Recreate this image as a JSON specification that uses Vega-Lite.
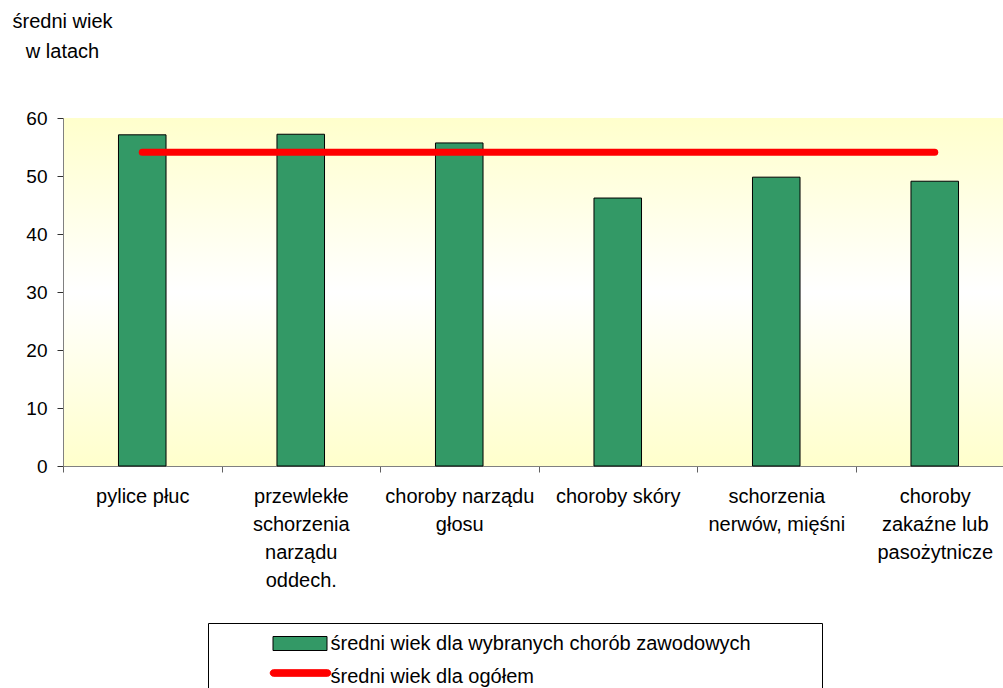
{
  "$schema": "https://vega.github.io/schema/vega-lite/v6.json",
  "autosize": {"type": "none"},
  "padding": {"left": 63, "top": 118, "right": 0, "bottom": 222},
  "width": 940,
  "height": 348,
  "background": "#FFFFFF",
  "view": {
    "stroke": null,
    "fill": {
      "gradient": "linear", "x1": 0, "y1": 0, "x2": 0, "y2": 1,
      "stops": [
        {"offset": 0, "color": "#FFFFCC"},
        {"offset": 0.5, "color": "#FFFFFF"},
        {"offset": 1, "color": "#FFFFCC"}
      ]
    }
  },
  "config": {
    "font": "Liberation Sans",
    "axis": {"grid": false, "labelColor": "#000000", "titleColor": "#000000", "labelFont": "Liberation Sans", "titleFont": "Liberation Sans"},
    "legend": {"labelFont": "Liberation Sans"}
  },
  "datasets": {
    "bars": [
      {"category": "pylice płuc", "series": "średni wiek dla wybranych chorób zawodowych", "value": 57.1},
      {"category": "przewlekłe schorzenia narządu oddech.", "series": "średni wiek dla wybranych chorób zawodowych", "value": 57.2},
      {"category": "choroby narządu głosu", "series": "średni wiek dla wybranych chorób zawodowych", "value": 55.7},
      {"category": "choroby skóry", "series": "średni wiek dla wybranych chorób zawodowych", "value": 46.2},
      {"category": "schorzenia nerwów, mięśni", "series": "średni wiek dla wybranych chorób zawodowych", "value": 49.8},
      {"category": "choroby zakaźne lub pasożytnicze", "series": "średni wiek dla wybranych chorób zawodowych", "value": 49.1}
    ],
    "overall": [
      {"category": "pylice płuc", "series": "średni wiek dla ogółem", "value": 54.1},
      {"category": "przewlekłe schorzenia narządu oddech.", "series": "średni wiek dla ogółem", "value": 54.1},
      {"category": "choroby narządu głosu", "series": "średni wiek dla ogółem", "value": 54.1},
      {"category": "choroby skóry", "series": "średni wiek dla ogółem", "value": 54.1},
      {"category": "schorzenia nerwów, mięśni", "series": "średni wiek dla ogółem", "value": 54.1},
      {"category": "choroby zakaźne lub pasożytnicze", "series": "średni wiek dla ogółem", "value": 54.1}
    ]
  },
  "encoding": {
    "x": {
      "field": "category", "type": "nominal", "sort": null,
      "scale": {"range": [0, 951], "paddingInner": 0, "paddingOuter": 0},
      "axis": {
        "title": null, "labelAngle": 0, "labelFontSize": 20, "labelLineHeight": 28,
        "labelPadding": 14, "labelLimit": 0,
        "domainColor": "#808080", "tickColor": "#606060", "tickSize": 6, "tickBand": "extent",
        "labelExpr": "datum.label == 'przewlekłe schorzenia narządu oddech.' ? ['przewlekłe','schorzenia','narządu','oddech.'] : datum.label == 'choroby narządu głosu' ? ['choroby narządu','głosu'] : datum.label == 'schorzenia nerwów, mięśni' ? ['schorzenia','nerwów, mięśni'] : datum.label == 'choroby zakaźne lub pasożytnicze' ? ['choroby','zakaźne lub','pasożytnicze'] : datum.label"
      }
    },
    "y": {
      "field": "value", "type": "quantitative",
      "scale": {"domain": [0, 60], "nice": false},
      "axis": {
        "values": [0, 10, 20, 30, 40, 50, 60],
        "title": ["średni wiek", "w latach"],
        "titleAngle": 0, "titleAlign": "center", "titleBaseline": "alphabetic",
        "titleX": -1, "titleY": -91, "titleFontSize": 20, "titleFontWeight": "normal", "titleLineHeight": 30,
        "labelFontSize": 19, "labelPadding": 10, "tickSize": 6,
        "domainColor": "#808080", "tickColor": "#303030"
      }
    }
  },
  "layer": [
    {
      "data": {"name": "bars"},
      "mark": {"type": "bar", "width": {"band": 0.3}, "stroke": "#000000", "strokeWidth": 1, "opacity": 1},
      "encoding": {
        "color": {
          "field": "series", "type": "nominal",
          "scale": {
            "domain": ["średni wiek dla wybranych chorób zawodowych", "średni wiek dla ogółem"],
            "range": ["#339966", "#FF0000"]
          },
          "legend": {
            "title": "\u00a0", "titleOrient": "right", "titleFontSize": 1, "titlePadding": 61,
            "orient": "none", "legendX": 145, "legendY": 505, "direction": "vertical",
            "padding": 10, "strokeColor": "#000000", "fillColor": "#FFFFFF",
            "symbolSize": 400, "symbolStrokeWidth": 1, "symbolOffset": 71.5, "labelOffset": 20,
            "labelFontSize": 20, "labelColor": "#000000", "labelLimit": 0, "rowPadding": 12,
            "symbolOpacity": 1,
            "symbolType": {"expr": "datum.value === 'średni wiek dla ogółem' ? 'M-2.65,-0.68H2.75A0.33,0.33 0 0 1 2.75,-0.02H-2.65A0.33,0.33 0 0 1 -2.65,-0.68Z' : 'M-2.7,-0.7H2.7V0.7H-2.7Z'"},
            "symbolStrokeColor": {"expr": "datum.value === 'średni wiek dla ogółem' ? '#FF0000' : '#000000'"}
          }
        }
      }
    },
    {
      "data": {"name": "overall"},
      "mark": {"type": "line", "color": "#FF0000", "strokeWidth": 7, "strokeCap": "round", "opacity": 1}
    }
  ]
}
